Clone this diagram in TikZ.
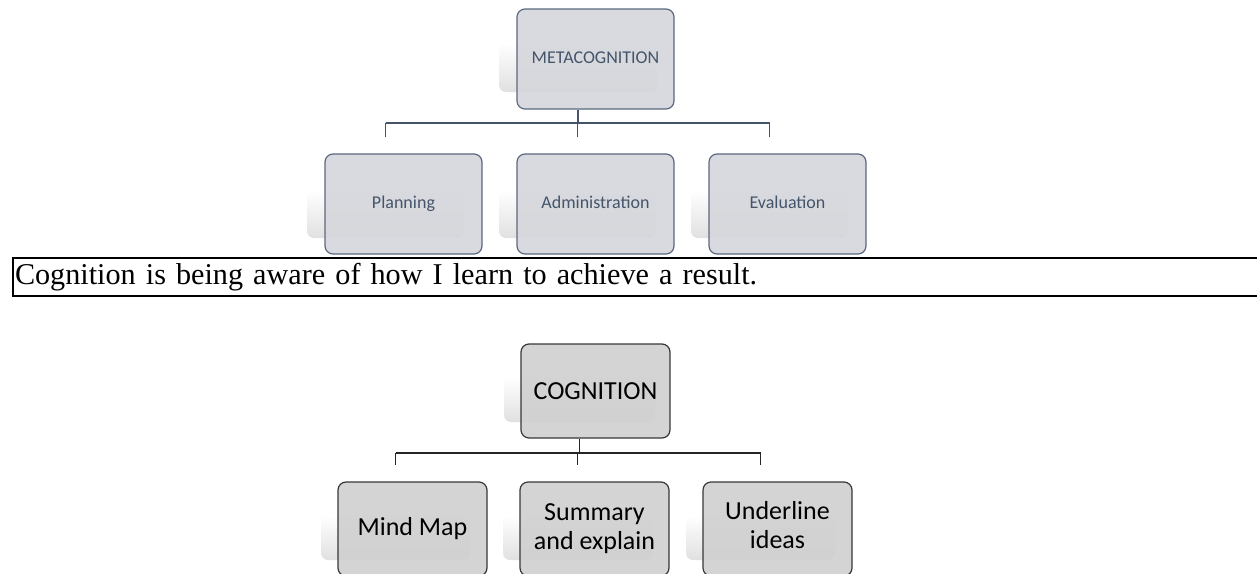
\documentclass[tikz,border=0pt]{standalone}
\usepackage{fontspec}
\setmainfont{Carlito}
\newfontfamily\timesfont{Liberation Serif}
\usetikzlibrary{calc}
\definecolor{metafill}{RGB}{213,215,220}
\definecolor{metaline}{RGB}{90,105,125}
\definecolor{metatext}{RGB}{68,84,106}
\definecolor{cogfill}{RGB}{208,208,208}
\definecolor{cogline}{RGB}{55,55,55}
\tikzset{
	metabox/.style={draw=metaline, fill=metafill, fill opacity=0.92, text opacity=1, line width=1.2pt, rounded corners=8pt, minimum width=157pt, minimum height=100pt, text=metatext, text height=13pt, text depth=4pt, align=center, font=\fontsize{18}{22}\selectfont},
	cogbox/.style={draw=cogline, fill=cogfill, fill opacity=0.92, text opacity=1, line width=1.2pt, rounded corners=8pt, minimum width=149pt, minimum height=94pt, text=black, align=center, font=\fontsize{26}{29}\selectfont},
	ghost/.style={rounded corners=7pt, top color=white, bottom color=black!12, inner sep=0pt},
	metalink/.style={draw=metatext, line width=1.3pt},
	coglink/.style={draw=black!85, line width=1.3pt}
}

\begin{document}
\begin{tikzpicture}[x=1pt, y=-1pt]
		%%%%% START %%%%%
		\useasboundingbox (0, 0) rectangle (1257, 573);
		
		% metacognition tree
		\node[ghost, minimum width=158pt, minimum height=49pt] (meta-g) at (578, 67.5) {};
		\node[metabox] (meta) at (595.5, 59) {METACOGNITION};
		\foreach \n/\x/\t in {plan/403.5/Planning, admin/595.5/Administration, eval/787.5/Evaluation} {
			\node[ghost, minimum width=157pt, minimum height=48pt] (\n-g) at (\x-18, 214) {};
			\node[metabox] (\n) at (\x, 204) {\t};
		}
		\coordinate (topbar) at (0, 123);
		\draw[metalink] (meta-g |- meta.south) -- (meta-g |- topbar);
		\draw[metalink] (plan-g |- topbar) -- (eval-g |- topbar);
		\foreach \n in {plan, admin, eval}
			\draw[metalink] (\n-g |- topbar) -- ++(0, 14);
		
		% sentence line
		\node[draw, line width=2pt, anchor=west, inner xsep=2pt, inner ysep=0pt, minimum height=38pt, text width=1250pt, align=left, font=\timesfont\fontsize{30.2}{36}\selectfont] (sentence) at (12, 277) {Cognition is being aware of how I learn to achieve a result.};
		
		% cognition tree
		\node[ghost, minimum width=151pt, minimum height=45pt] (cog-g) at (579.5, 399.5) {};
		\node[cogbox] (cog) at (595.5, 391) {COGNITION};
		\foreach \n/\x/\t in {mind/412.5/Mind Map, summ/594.5/{Summary\\and explain}, under/777.5/{Underline\\ideas\strut}} {
			\node[ghost, minimum width=149pt, minimum height=45pt] (\n-g) at (\x-17, 537.5) {};
			\node[cogbox] (\n) at (\x, 529) {\t};
		}
		\coordinate (botbar) at (0, 453);
		\draw[coglink] (cog-g |- cog.south) -- (cog-g |- botbar);
		\draw[coglink] (mind-g |- botbar) -- (under-g |- botbar);
		\foreach \n in {mind, summ, under}
			\draw[coglink] (\n-g |- botbar) -- ++(0, 12);
		
		%%%%% END %%%%%
	\end{tikzpicture}
\end{document}
